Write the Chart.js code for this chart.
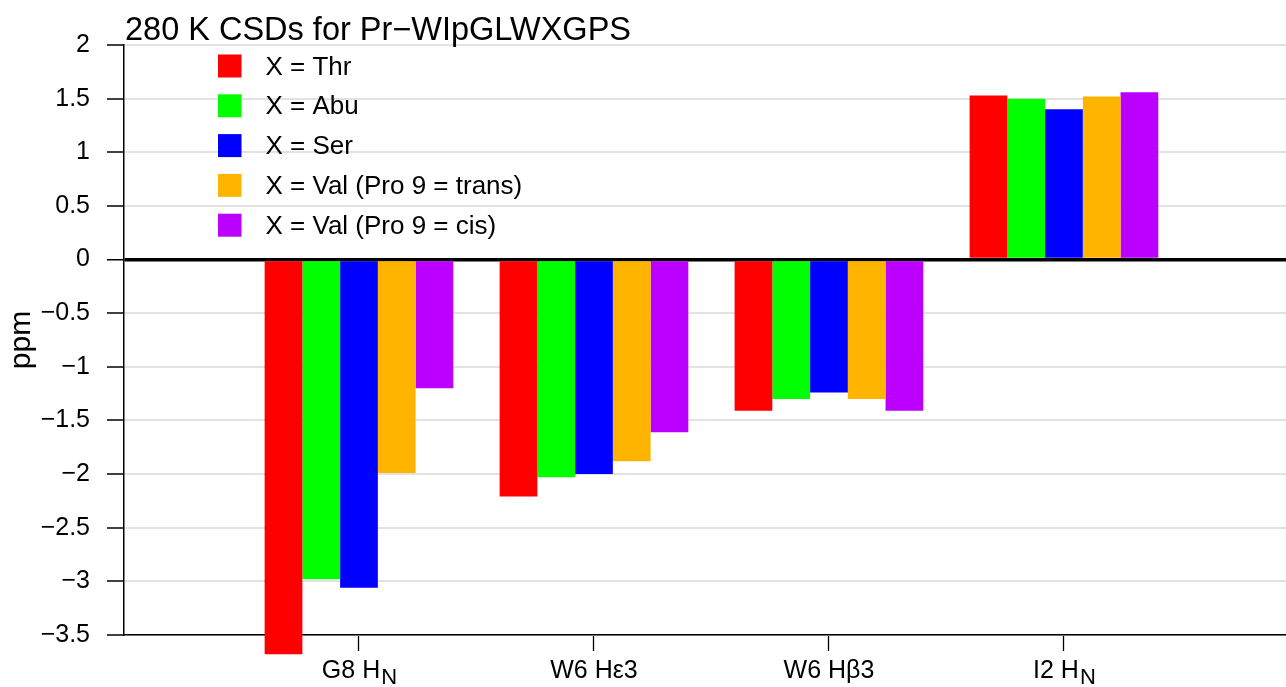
<!DOCTYPE html>
<html>
<head>
<meta charset="utf-8">
<title>280 K CSDs for Pr−WIpGLWXGPS</title>
<script src="https://cdn.jsdelivr.net/npm/chart.js@4.4.1/dist/chart.umd.min.js"></script>
<style>
  html, body { margin: 0; padding: 0; background: #ffffff; }
  #wrap { width: 1286px; height: 687px; }
</style>
</head>
<body>
<div id="wrap"><canvas id="chart" width="1286" height="687"></canvas></div>
<script>
// Resonance groups along the x axis (position 1..4)
const categories = ['G8 H_N', 'W6 Hε3', 'W6 Hβ3', 'I2 H_N'];
const categoryPositions = [1, 2, 3, 4];

// Chemical shift deviations (ppm) per peptide variant
const seriesNames = ['X = Thr', 'X = Abu', 'X = Ser', 'X = Val (Pro 9 = trans)', 'X = Val (Pro 9 = cis)'];
const thr      = [-3.68, -2.21, -1.41, 1.53];
const abu      = [-2.98, -2.03, -1.30, 1.50];
const ser      = [-3.06, -2.00, -1.24, 1.40];
const valTrans = [-1.99, -1.88, -1.30, 1.52];
const valCis   = [-1.20, -1.61, -1.41, 1.56];
const seriesColors = ['#ff0000', '#00ff00', '#0000ff', '#ffb400', '#bb00ff'];

// y axis tick values
const yTicks = [-3.5, -3, -2.5, -2, -1.5, -1, -0.5, 0, 0.5, 1, 1.5, 2];

const FONT = '"Liberation Sans", Arial, sans-serif';

const allSeries = [thr, abu, ser, valTrans, valCis];
const datasets = allSeries.map((vals, i) => ({
  label: seriesNames[i],
  data: vals.map((v, j) => ({ x: categoryPositions[j], y: v })),
  backgroundColor: seriesColors[i],
  borderWidth: 0,
  categoryPercentage: 0.803,
  barPercentage: 1.0,
  clip: false
}));

function fmt(v) {
  const s = String(Math.abs(v));
  return v < 0 ? '\u2212' + s : s;
}

// Title, legend and category labels
const overlayPlugin = {
  id: 'overlay',
  afterDraw(chart) {
    const ctx = chart.ctx;
    const area = chart.chartArea;
    ctx.save();
    ctx.fillStyle = '#000';
    ctx.font = '32.5px ' + FONT;
    ctx.textBaseline = 'alphabetic';
    ctx.textAlign = 'left';
    ctx.fillText('280 K CSDs for Pr\u2212WIpGLWXGPS', area.left + 1, 40);

    ctx.font = '26px ' + FONT;
    ctx.textBaseline = 'middle';
    chart.data.datasets.forEach((ds, i) => {
      const cy = 66 + i * 39.8;
      ctx.fillStyle = ds.backgroundColor;
      ctx.fillRect(218, cy - 11.5, 23.5, 23);
      ctx.fillStyle = '#000';
      ctx.fillText(ds.label, 265.5, cy + 1.5);
    });

    // category labels with subscripts
    const xs = chart.scales.x;
    const base = 678;
    categories.forEach((lab, j) => {
      const px = xs.getPixelForValue(categoryPositions[j]);
      const parts = lab.split('_');
      ctx.textBaseline = 'alphabetic';
      ctx.font = '25px ' + FONT;
      const w1 = ctx.measureText(parts[0]).width;
      let w2 = 0;
      if (parts[1]) {
        ctx.font = '22px ' + FONT;
        w2 = ctx.measureText(parts[1]).width;
      }
      const x0 = px - (w1 + w2) / 2;
      ctx.font = '25px ' + FONT;
      ctx.fillStyle = '#000';
      ctx.fillText(parts[0], x0, base);
      if (parts[1]) {
        ctx.font = '22px ' + FONT;
        ctx.fillText(parts[1], x0 + w1 + 1, base + 6);
      }
    });
    ctx.restore();
  }
};

new Chart(document.getElementById('chart'), {
  type: 'bar',
  data: { datasets },
  options: {
    responsive: false,
    devicePixelRatio: 1,
    animation: false,
    layout: { padding: { top: 45, right: 0, bottom: 0, left: 0 } },
    plugins: {
      legend: { display: false },
      title: { display: false },
      tooltip: { enabled: false }
    },
    scales: {
      x: {
        type: 'linear',
        offset: false,
        min: 0,
        max: 4.945,
        grid: {
          offset: false,
          drawOnChartArea: false,
          drawTicks: true,
          tickLength: 16,
          tickColor: '#000',
          tickWidth: 1.3
        },
        border: { display: true, color: '#000', width: 1.5 },
        ticks: {
          stepSize: 1,
          includeBounds: false,
          autoSkip: false,
          maxRotation: 0,
          font: { family: FONT, size: 24 },
          color: 'rgba(0,0,0,0)',
          callback: (v) => (categoryPositions.includes(v) ? '' : null)
        },
        afterFit: (s) => { s.height = 52; }
      },
      y: {
        type: 'linear',
        min: -3.5,
        max: 2,
        afterBuildTicks: (s) => { s.ticks = yTicks.map(v => ({ value: v })); },
        grid: {
          color: (c) => (c.tick && c.tick.value === 0 ? '#000' : '#e2e2e2'),
          lineWidth: (c) => (c.tick && c.tick.value === 0 ? 3.5 : 2),
          drawTicks: true,
          tickLength: 17,
          tickColor: '#000',
          tickWidth: 1.5
        },
        border: { display: true, color: '#000', width: 1.5 },
        ticks: {
          font: { family: FONT, size: 25 },
          color: '#000',
          padding: 17,
          callback: (v) => fmt(v)
        },
        title: {
          display: true,
          text: 'ppm',
          font: { family: FONT, size: 30 },
          color: '#000',
          padding: { top: 4, bottom: 0 }
        },
        afterFit: (s) => { s.width = 124; }
      }
    }
  },
  plugins: [overlayPlugin]
});
</script>
</body>
</html>
